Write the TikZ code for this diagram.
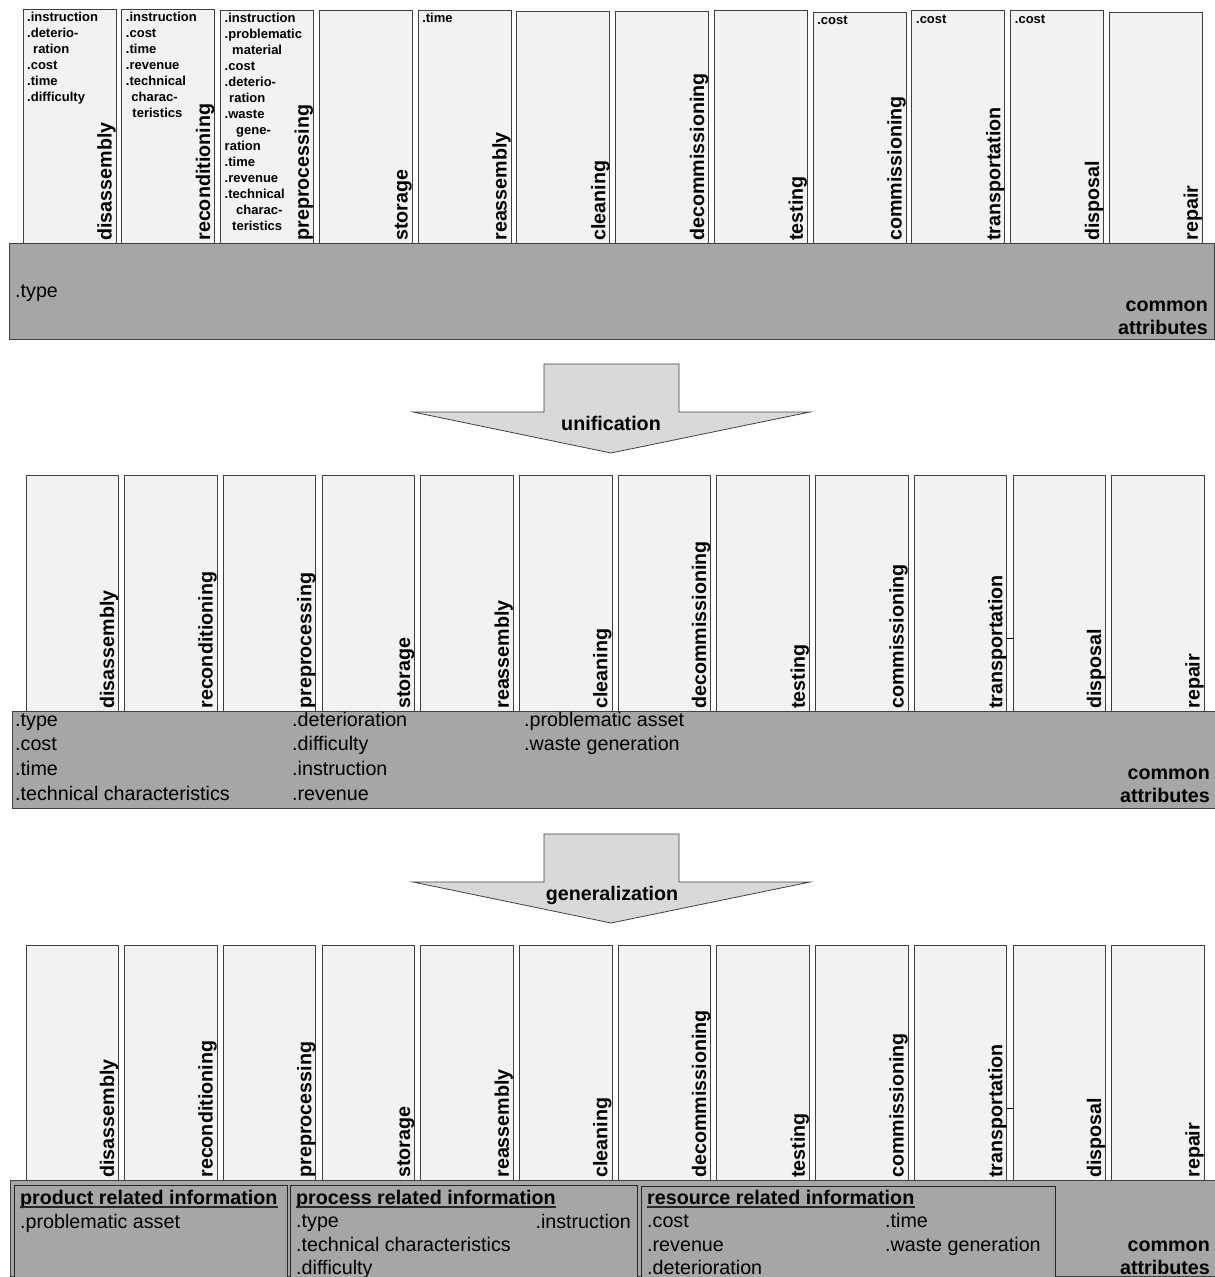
\documentclass[tikz,border=0pt]{standalone}
\usepackage{fontspec}
\setmainfont{Liberation Sans}
\definecolor{colfill}{HTML}{F2F2F2}
\definecolor{barfill}{HTML}{A6A6A6}
\definecolor{arrowfill}{HTML}{D9D9D9}
\definecolor{edgec}{HTML}{404040}
\definecolor{subedge}{HTML}{262626}
\begin{document}
\begin{tikzpicture}[x=1pt,y=-1pt,
  colbox/.style={rectangle,draw=edgec,fill=colfill,line width=0.8pt,inner sep=0pt,anchor=north west,minimum width=93pt},
  procname/.style={rotate=90,anchor=south west,inner xsep=3pt,inner ysep=0.5pt,font=\fontsize{19.7}{23}\selectfont\bfseries},
  attrsmall/.style={anchor=north west,align=left,inner sep=0pt,font=\fontsize{13}{16}\selectfont\bfseries},
  bar/.style={rectangle,draw=edgec,fill=barfill,line width=1pt,inner sep=0pt,anchor=north west},
  subbox/.style={rectangle,draw=subedge,fill=barfill,line width=1.1pt,inner sep=0pt,anchor=north west},
  bigtext/.style={inner sep=0pt,font=\fontsize{19.7}{24.8}\selectfont},
  bigbold/.style={inner sep=0pt,font=\fontsize{19.7}{23.5}\selectfont\bfseries},
  arrowshape/.style={draw=edgec,fill=arrowfill,line width=0.8pt,line join=miter},
  uline/.style={draw=black!85,line width=1.3pt},
  tick/.style={draw=black,line width=0.8pt}]
\useasboundingbox (0,0) rectangle (1215,1277);
\clip (0,0) rectangle (1215,1277);

% ---------- first stage: process-specific attributes ----------
\foreach \i/\nm/\tp in {1/disassembly/8.5,2/reconditioning/8.5,3/preprocessing/9.5,4/storage/10,5/reassembly/9.5,6/cleaning/11,7/decommissioning/11,8/testing/10,9/commissioning/11.5,10/transportation/10,11/disposal/10,12/repair/11.5}{
  \pgfmathsetmacro\xl{22.5+98.77*(\i-1)}
  \pgfmathsetmacro\hh{243-\tp}
  \node[colbox,minimum height=\hh pt] (t\i) at (\xl,\tp) {};
  \node[procname] (tn\i) at (t\i.south east) {\nm};
}
\node[attrsmall] (ta1) at ([xshift=4.5pt,yshift=-2pt]t1.north west)
  {\strut .instruction\\.deterio-\\\hspace*{6pt}ration\\.cost\\.time\\.difficulty};
\node[attrsmall] (ta2) at ([xshift=4.5pt,yshift=-2pt]t2.north west)
  {\strut .instruction\\.cost\\.time\\.revenue\\.technical\\\hspace*{5.5pt}charac-\\\hspace*{6.5pt}teristics};
\node[attrsmall] (ta3) at ([xshift=4.5pt,yshift=-2pt]t3.north west)
  {\strut .instruction\\.problematic\\\hspace*{7.5pt}material\\.cost\\.deterio-\\\hspace*{4.5pt}ration\\.waste\\\hspace*{11.5pt}gene-\\ration\\.time\\.revenue\\.technical\\\hspace*{11.5pt}charac-\\\hspace*{7.5pt}teristics};
\node[attrsmall] (ta5) at ([xshift=4.5pt,yshift=-2pt]t5.north west) {\strut .time};
\node[attrsmall] (ta9) at ([xshift=4.5pt,yshift=-2pt]t9.north west) {\strut .cost};
\node[attrsmall] (ta10) at ([xshift=4.5pt,yshift=-2pt]t10.north west) {\strut .cost};
\node[attrsmall] (ta11) at ([xshift=4.5pt,yshift=-2pt]t11.north west) {\strut .cost};

\node[bar,minimum width=1205pt,minimum height=96pt] (tb) at (9,243) {};
\node[bigtext,anchor=base west] (tbt) at (15,297) {.type};
\node[bigbold,anchor=south east,align=right] (tbc) at (1208,335) {common\\attributes};

% ---------- unification arrow ----------
\draw[arrowshape] (544,364) -- (679,364) -- (679,412) -- (810,412) -- (611,453) -- (413,412) -- (544,412) -- cycle;
\node[bigbold,anchor=base] (uni) at (611,430) {unification};

% ---------- second stage: unified attributes ----------
\foreach \i/\nm in {1/disassembly,2/reconditioning,3/preprocessing,4/storage,5/reassembly,6/cleaning,7/decommissioning,8/testing,9/commissioning,10/transportation,11/disposal,12/repair}{
  \pgfmathsetmacro\xl{25.5+98.7*(\i-1)}
  \node[colbox,minimum width=92.5pt,minimum height=236pt] (m\i) at (\xl,475) {};
  \node[procname] (mn\i) at (m\i.south east) {\nm};
}
\draw[tick] (m10.east |- 0,638) -- (m11.west |- 0,638);

\node[bar,minimum width=1206pt,minimum height=97pt] (mb) at (12,711) {};
\node[bigtext,anchor=north west,align=left] (mba) at (15,708.5)
  {\strut .type\\.cost\\.time\\.technical characteristics};
\node[bigtext,anchor=north west,align=left] (mbb) at (292,708.5)
  {\strut .deterioration\\.difficulty\\.instruction\\.revenue};
\node[bigtext,anchor=north west,align=left] (mbc) at (524,708.5)
  {\strut .problematic asset\\.waste generation};
\node[bigbold,anchor=south east,align=right] (mbd) at (1210,803) {common\\attributes};

% ---------- generalization arrow ----------
\draw[arrowshape] (544,834) -- (679,834) -- (679,882) -- (810,882) -- (611,923) -- (413,882) -- (544,882) -- cycle;
\node[bigbold,anchor=base] (gen) at (612,900) {generalization};

% ---------- third stage: generalized attribute groups ----------
\foreach \i/\nm in {1/disassembly,2/reconditioning,3/preprocessing,4/storage,5/reassembly,6/cleaning,7/decommissioning,8/testing,9/commissioning,10/transportation,11/disposal,12/repair}{
  \pgfmathsetmacro\xl{25.5+98.7*(\i-1)}
  \node[colbox,minimum width=92.5pt,minimum height=235pt] (b\i) at (\xl,945) {};
  \node[procname] (bn\i) at (b\i.south east) {\nm};
}
\draw[tick] (b10.east |- 0,1108) -- (b11.west |- 0,1108);

\node[bar,minimum width=1207pt,minimum height=96pt] (bb) at (10,1180) {};
\node[bigbold,anchor=south east,align=right] (bbc) at (1210,1275) {common\\attributes};

\node[subbox,minimum width=273pt,minimum height=115pt] (prod) at (14,1185) {};
\node[subbox,minimum width=347pt,minimum height=115pt] (proc) at (290,1185) {};
\node[subbox,minimum width=414pt,minimum height=115pt] (res) at (641,1186) {};

\node[bigbold,anchor=base west] (prodh) at (20,1204) {product related information};
\draw[uline] ([yshift=-3pt]prodh.base west) -- ([yshift=-3pt]prodh.base east);
\node[bigtext,anchor=base west] (prodl) at (20,1228.5) {.problematic asset};

\node[bigbold,anchor=base west] (proch) at (296,1204) {process related information};
\draw[uline] ([yshift=-3pt]proch.base west) -- ([yshift=-3pt]proch.base east);
\node[bigtext,anchor=north west,align=left,font=\fontsize{19.7}{23.5}\selectfont] (procl) at (296,1211)
  {\strut .type\\.technical characteristics\\.difficulty};
\node[bigtext,anchor=base east] (procr) at (631,1228.5) {.instruction};

\node[bigbold,anchor=base west] (resh) at (647,1204) {resource related information};
\draw[uline] ([yshift=-3pt]resh.base west) -- ([yshift=-3pt]resh.base east);
\node[bigtext,anchor=north west,align=left,font=\fontsize{19.7}{23.5}\selectfont] (resl) at (647,1211)
  {\strut .cost\\.revenue\\.deterioration};
\node[bigtext,anchor=north west,align=left,font=\fontsize{19.7}{23.5}\selectfont] (resr) at (885,1211)
  {\strut .time\\.waste generation};
\end{tikzpicture}
\end{document}
